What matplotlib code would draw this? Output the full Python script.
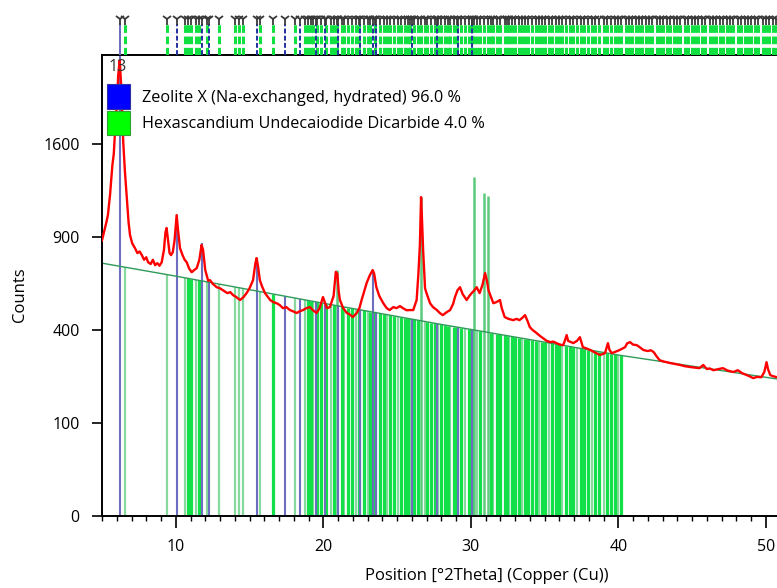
import numpy as np
import matplotlib
matplotlib.use('Agg')
import matplotlib.pyplot as plt
from matplotlib.patches import Patch
from matplotlib.ticker import MultipleLocator

plt.rcParams['font.family'] = ['Open Sans', 'DejaVu Sans']

# ---------------- data ----------------
obs_x = [5.0, 5.15, 5.3, 5.4, 5.55, 5.7, 5.8, 5.9, 6.0, 6.1, 6.2, 6.3, 6.44, 6.55, 6.67, 6.8, 6.9, 7.05,
         7.24, 7.4, 7.55, 7.7, 7.85, 8.0, 8.12, 8.3, 8.45, 8.6, 8.75, 8.9, 9.05, 9.2, 9.3, 9.38, 9.48,
         9.58, 9.68, 9.8, 9.92, 10.06, 10.15, 10.29, 10.45, 10.6, 10.74, 10.9, 11.08, 11.25, 11.42,
         11.6, 11.75, 11.85, 12.0, 12.2, 12.32, 12.5, 12.77, 13.0, 13.2, 13.5, 13.7, 13.88, 14.1,
         14.36, 14.6, 14.8, 15.0, 15.24, 15.4, 15.48, 15.58, 15.7, 15.85, 16.05, 16.2, 16.4, 16.6,
         16.84, 17.05, 17.27, 17.5, 17.74, 17.95, 18.2, 18.4, 18.63, 18.85, 19.1, 19.3, 19.55, 19.75,
         19.98, 20.1, 20.25, 20.45, 20.7, 20.85, 20.95, 21.05, 21.13, 21.35, 21.6, 21.8, 22.0, 22.27,
         22.45, 22.6, 22.8, 22.94, 23.15, 23.35, 23.45, 23.6, 23.8, 24.07, 24.3, 24.5, 24.75, 24.96,
         25.2, 25.4, 25.65, 25.9, 26.1, 26.33, 26.45, 26.55, 26.63, 26.7, 26.77, 26.9, 27.0, 27.24,
         27.44, 27.7, 27.9, 28.1, 28.35, 28.6, 28.8, 28.93, 29.1, 29.27, 29.45, 29.72, 29.9, 30.06,
         30.25, 30.4, 30.6, 30.8, 30.97, 31.1, 31.2, 31.35, 31.53, 31.75, 31.98, 32.1, 32.3, 32.55,
         32.88, 33.1, 33.3, 33.5, 33.68, 33.85, 34.0, 34.2, 34.47, 34.7, 34.9, 35.15, 35.4, 35.6,
         35.8, 36.05, 36.27, 36.4, 36.5, 36.6, 36.95, 37.2, 37.4, 37.6, 37.85, 38.1, 38.4, 38.76,
         39.1, 39.3, 39.4, 39.55, 39.8, 40.1, 40.3, 40.46, 40.6, 40.8, 41.0, 41.25, 41.45, 41.7,
         42.0, 42.2, 42.4, 42.6, 42.8, 43.1, 43.5, 43.8, 44.2, 44.5, 44.86, 45.2, 45.5, 45.76, 46.0,
         46.2, 46.45, 46.8, 47.1, 47.4, 47.8, 48.1, 48.4, 48.7, 48.9, 49.15, 49.4, 49.7, 49.9, 50.05,
         50.15, 50.3, 50.5, 50.76]
obs_counts = [880, 940, 1000, 1048, 1200, 1420, 1520, 1750, 1950, 2250, 2400, 2150, 1620, 1380, 1190,
              1000, 913, 860, 830, 800, 810, 788, 760, 775, 746, 735, 760, 728, 740, 725, 746, 820,
              930, 960, 880, 800, 788, 806, 880, 1048, 950, 830, 790, 760, 746, 710, 688, 700, 711,
              760, 850, 820, 700, 640, 644, 625, 606, 600, 590, 575, 580, 565, 555, 540, 555, 575,
              600, 644, 740, 770, 720, 644, 610, 575, 560, 540, 530, 524, 515, 500, 505, 491, 485,
              477, 485, 491, 500, 505, 490, 477, 500, 555, 530, 500, 505, 560, 690, 680, 580, 540,
              500, 477, 470, 458, 477, 500, 540, 590, 628, 670, 700, 680, 606, 560, 524, 500, 491,
              505, 500, 510, 500, 490, 491, 491, 540, 680, 850, 1177, 1000, 818, 600, 575, 524, 505,
              491, 477, 467, 480, 491, 520, 555, 590, 606, 570, 540, 560, 575, 590, 606, 575, 620,
              683, 640, 590, 560, 524, 530, 540, 500, 458, 450, 444, 450, 444, 455, 467, 440, 413,
              400, 387, 375, 366, 355, 350, 352, 346, 340, 338, 360, 379, 355, 346, 355, 370, 330,
              325, 319, 310, 300, 307, 346, 320, 307, 312, 319, 325, 330, 345, 350, 340, 338, 330,
              319, 315, 318, 311, 295, 281, 276, 271, 268, 264, 260, 257, 255, 253, 264, 250, 252,
              246, 250, 253, 245, 240, 246, 236, 230, 226, 220, 224, 223, 240, 274, 250, 230, 226, 223]

background_x = [5.0, 10.0, 15.0, 20.0, 25.0, 27.9, 30.0, 35.0, 40.0, 45.0, 50.8]
background_counts = [740, 666, 593, 524, 461, 426, 403, 350, 300, 260, 217]

# Zeolite X reference lines (blue)
zeo_strong_pos = [6.22, 10.1, 11.8, 15.48, 23.35]
zeo_strong_top = [2600, 1048, 862, 770, 688]
zeo_weak_pos = [12.27, 17.4, 18.4, 19.5, 20.1, 21.0, 22.5, 23.6, 26.0, 27.7, 29.15, 30.1]

# Hexascandium Undecaiodide Dicarbide reference lines (green)
hex_strong_pos = [20.95, 26.63, 30.2, 30.9, 31.15]
hex_strong_top = [700, 1177, 1330, 1206, 1184]
hex_pale_pos = [6.56, 9.38, 10.6, 11.35, 12.1, 12.9, 14.0, 14.3, 14.55, 15.7, 18.1, 18.75, 19.3,
                20.5, 21.4, 22.2, 23.0, 24.3, 25.1, 25.9, 26.9, 27.8, 28.6, 29.6, 30.45, 31.5,
                32.6, 33.5, 34.6, 35.3, 36.2, 37.2, 38.2, 39.0, 40.0]
hex_bright_pos = [10.8, 11.0, 11.55, 16.6, 18.95, 19.15, 19.6, 19.85, 20.2, 20.7, 21.25, 21.7,
                  21.95, 22.4, 22.75, 23.2, 23.5, 23.85, 24.1, 24.55, 24.8, 25.3, 25.55, 25.75,
                  26.15, 26.4, 27.05, 27.3, 27.55, 28.0, 28.25, 28.45, 28.85, 29.1, 29.35, 29.85,
                  30.05, 30.65, 31.35, 31.75, 32.0, 32.3, 32.45, 32.8, 33.0, 33.25, 33.7, 33.9,
                  34.15, 34.4, 34.85, 35.05, 35.5, 35.75, 35.95, 36.45, 36.7, 36.95, 37.45, 37.7,
                  37.95, 38.45, 38.7, 39.25, 39.5, 39.75, 40.2]
hex_marker_only_pos = [40.5, 40.7, 40.9, 41.2, 41.4, 41.6, 41.9, 42.1, 42.3, 42.6, 42.8, 43.0,
                       43.3, 43.5, 43.8, 44.0, 44.2, 44.5, 44.7, 45.0, 45.2, 45.4, 45.7, 45.9,
                       46.2, 46.4, 46.6, 46.9, 47.1, 47.4, 47.6, 47.8, 48.1, 48.3, 48.6, 48.8,
                       49.0, 49.3, 49.5, 49.8, 50.0, 50.2, 50.5, 50.7]

y_ticks = [0, 100, 400, 900, 1600]
x_ticks = [10, 20, 30, 40, 50]
legend_labels = ['Zeolite X (Na-exchanged, hydrated) 96.0 %',
                 'Hexascandium Undecaiodide Dicarbide 4.0 %']
scan_label = '13'

# ---------------- figure ----------------
W, H = 777, 588
fig = plt.figure(figsize=(W / 100, H / 100), dpi=100)
ax = fig.add_axes([102 / W, 1 - 516 / H, (W - 102) / W, (516 - 55) / H])
ax.set_yscale('function', functions=(lambda v: np.sqrt(np.clip(v, 0, None)),
                                     lambda v: np.square(v)))

BLUE = '#6E6EC0'
GREEN = '#12E048'
PALE = '#86DA9E'


def bg(pos):
    return np.interp(pos, background_x, background_counts)


ax.vlines(hex_pale_pos, 0, bg(hex_pale_pos), colors=PALE, lw=1.6, zorder=1)
ax.vlines(hex_bright_pos, 0, bg(hex_bright_pos), colors=GREEN, lw=2.3, zorder=1)
ax.vlines(hex_strong_pos, 0, hex_strong_top, colors='#5CCB7C', lw=1.8, zorder=1)
ax.vlines(zeo_weak_pos, 0, bg(zeo_weak_pos), colors=BLUE, lw=1.5, zorder=1.5)
ax.vlines(zeo_strong_pos, 0, zeo_strong_top, colors=BLUE, lw=1.5, zorder=1.5)

ax.plot(background_x, background_counts, color='#2F9A5A', lw=1.0, zorder=2)
ax.plot(obs_x, obs_counts, color='#FF0000', lw=1.7, zorder=3)

ax.set_xlim(5, 50.76)
ax.set_ylim(0, 2460)
ax.set_yticks(y_ticks)
ax.set_yticklabels([str(v) for v in y_ticks])
ax.set_xticks(x_ticks)
ax.xaxis.set_minor_locator(MultipleLocator(1))
ax.yaxis.set_minor_locator(matplotlib.ticker.NullLocator())
ax.tick_params(axis='y', length=7, width=1.2, pad=9, labelsize=11.5)
ax.tick_params(axis='x', which='major', length=8.5, width=1.2, pad=8, labelsize=11.5)
ax.tick_params(axis='x', which='minor', length=3.5, width=1.0)
for s in ['left', 'bottom', 'top']:
    ax.spines[s].set_linewidth(1.4)
ax.spines['right'].set_visible(False)

fig.text(20 / W, 1 - 295 / H, 'Counts', rotation=90, ha='center', va='center', fontsize=12)
fig.text(487 / W, 1 - 576 / H, 'Position [°2Theta] (Copper (Cu))', ha='center', va='center',
         fontsize=12)

ax.text(0.009, 0.992, scan_label, transform=ax.transAxes, ha='left', va='top', fontsize=11.5,
        color='#333333')
handles = [Patch(facecolor='#0000FF', edgecolor='#3030A0', lw=0.8),
           Patch(facecolor='#00FF00', edgecolor='#30A030', lw=0.8)]
ax.legend(handles, legend_labels, loc='upper left', bbox_to_anchor=(0.007, 0.937),
          frameon=False, fontsize=11.7, handlelength=1.45, handleheight=1.95,
          handletextpad=0.7, labelspacing=0.12, borderpad=0, borderaxespad=0)

# peak marker band above the plot
band = fig.add_axes([102 / W, 1 - 55 / H, (W - 102) / W, 43 / H], sharex=ax)
band.set_ylim(0, 1)
band.axis('off')
hex_band = hex_pale_pos + hex_bright_pos + hex_strong_pos + hex_marker_only_pos
zeo_band = zeo_strong_pos + zeo_weak_pos
band.vlines(hex_band, 0, 0.72, colors='#10E040', lw=2.2, linestyles=(0, (2.5, 1.2)))
band.vlines(zeo_band, 0, 0.72, colors='#2030A0', lw=1.4, linestyles=(0, (2.5, 1.2)))
band.vlines([zeo_strong_pos[0]], 0, 0.75, colors=BLUE, lw=1.4)
all_band = sorted(hex_band + zeo_band)
band.plot(all_band, [0.84] * len(all_band), ls='none', marker='1', ms=8, mew=1.3,
          color='#3A3A3A', clip_on=False)

fig.savefig('out.png', dpi=100)
